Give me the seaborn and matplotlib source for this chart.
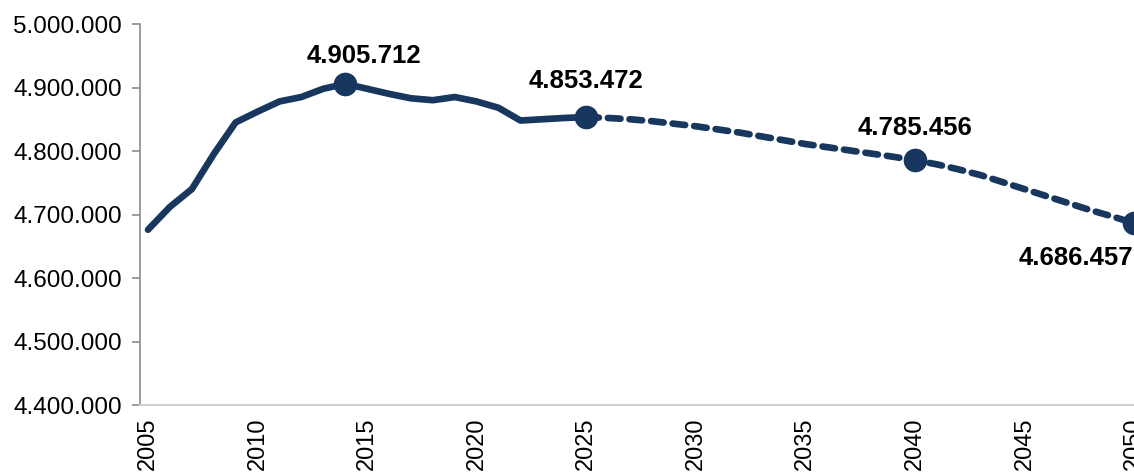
import pandas as pd
import seaborn as sns
import matplotlib.pyplot as plt
from matplotlib.ticker import FuncFormatter

# Population values (history up to 2025, projection after)
years = list(range(2005, 2051))
population = [4676000, 4712000, 4740000, 4795000, 4845000, 4862000, 4878000, 4885000,
              4898000, 4905712, 4898000, 4890000, 4883000, 4880000, 4885000, 4878000,
              4868000, 4848000, 4850000, 4852000, 4853472, 4852000, 4850000, 4847000,
              4843000, 4839000, 4834000, 4829000, 4823000, 4817000, 4811000, 4806000,
              4801000, 4796000, 4791000, 4785456, 4779000, 4771000, 4762000, 4751000,
              4740000, 4729000, 4718000, 4707000, 4697000, 4686457]
highlight_years = [2014, 2025, 2040, 2050]
split_year = 2025

df = pd.DataFrame({"Year": years, "Population": population})
hist = df[df["Year"] <= split_year]
proj = df[df["Year"] >= split_year]
marks = df[df["Year"].isin(highlight_years)]

navy = "#17375E"

sns.set_style("white")
plt.rcParams['font.family'] = ['Liberation Sans', 'DejaVu Sans']

fig = plt.figure(figsize=(11.34, 4.73), dpi=100)
ax = fig.add_axes([140 / 1134, 68 / 473, 1 - 140 / 1134, 381 / 473])

# Historical (solid) and projected (dashed) series
sns.lineplot(data=hist, x="Year", y="Population", ax=ax, color=navy,
             linewidth=4.8, solid_capstyle="round", solid_joinstyle="round")
sns.lineplot(data=proj, x="Year", y="Population", ax=ax, color=navy,
             linewidth=4.8, linestyle=(0, (1.9, 1.35)), dash_capstyle="round")
sns.scatterplot(data=marks, x="Year", y="Population", ax=ax, color=navy,
                s=290, edgecolor=navy, linewidth=0, zorder=5, clip_on=False)

# Value labels next to the highlighted points (pixel offsets)
offsets = {2014: (19, 28), 2025: (0, 36), 2040: (0, 32), 2050: (-58, -35)}
for _, row in marks.iterrows():
    yr, val = int(row["Year"]), row["Population"]
    label = f"{val:,.0f}".replace(",", ".")
    ax.annotate(label, (yr, val), xytext=offsets[yr], textcoords="offset pixels",
                ha="center", va="center", fontsize=18.5, fontweight="bold", color="black")

ax.set_xlim(2004.635, 2050)
ax.set_ylim(4400000, 5000000)
ax.set_xticks(range(2005, 2051, 5))
ax.set_yticks(range(4400000, 5000001, 100000))
ax.yaxis.set_major_formatter(FuncFormatter(lambda v, p: f"{v:,.0f}".replace(",", ".")))
ax.set_xlabel("")
ax.set_ylabel("")

plt.xticks(rotation=90, fontsize=17)
plt.yticks(fontsize=17.5)
ax.tick_params(axis="y", length=6, width=1.2, color="#8C8C8C", pad=7, left=True,
               labelcolor="black")
ax.tick_params(axis="x", length=0, pad=9, labelcolor="black")

sns.despine(ax=ax)
ax.spines["left"].set_color("#8C8C8C")
ax.spines["left"].set_linewidth(1.2)
ax.spines["bottom"].set_color("#D0D0D0")
ax.spines["bottom"].set_linewidth(1.5)

plt.savefig("out.png", dpi=100)
